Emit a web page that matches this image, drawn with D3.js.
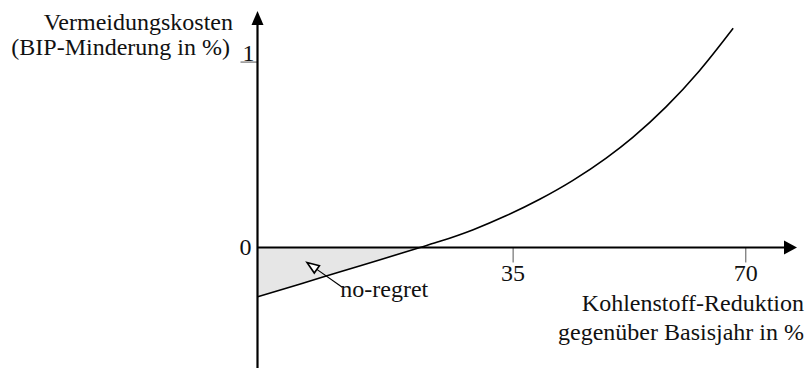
<!DOCTYPE html>
<meta charset="utf-8">
<script src="https://d3js.org/d3.v7.min.js"></script>
<style>
  body { margin: 0; background: #fff; }
  text { font-family: "Liberation Serif", "Times New Roman", Times, serif; font-size: 24px; fill: #111; }
</style>
<svg id="chart" width="807" height="368"></svg>
<script>
// curve: carbon reduction (%) vs. abatement cost (GDP loss in %)
var reduction = [-3.45, 3, 9, 15, 21, 24, 29, 34, 39, 44, 49, 53, 58, 63, 68.1];
var cost      = [-0.266, -0.197, -0.131, -0.066, 0, 0.033, 0.096, 0.172, 0.260, 0.362, 0.482, 0.594, 0.758, 0.952, 1.182];

var xTicks = [35, 70];
var yTicks = [0, 1];
var yTitle = ["Vermeidungskosten", "(BIP-Minderung in %)"];
var xTitle = ["Kohlenstoff-Reduktion", "gegenüber Basisjahr in %"];
var noRegret = { label: "no-regret", tip: [4.0, -0.081], tail: [9.3, -0.214], text: [9.0, -0.266] };

var svg = d3.select("#chart"),
  width = +svg.attr("width"),
  height = +svg.attr("height");

var x = d3.scaleLinear().domain([-3.45, 77.7]).range([257.5, 797]);
var y = d3.scaleLinear().domain([-0.65, 1.27]).range([368, 12]);

var data = reduction.map(function(d, i) { return { x: d, y: cost[i] }; });

// shaded no-regret area
svg.append("path")
  .datum(data.filter(function(d) { return d.y <= 0; }))
  .attr("fill", "#e6e6e6")
  .attr("d", d3.area()
    .x(function(d) { return x(d.x); })
    .y0(y(0))
    .y1(function(d) { return y(d.y); })
    .curve(d3.curveMonotoneX));

// ticks
svg.selectAll(".xtick")
  .data(xTicks)
  .enter().append("line")
    .attr("x1", function(d) { return x(d); })
    .attr("x2", function(d) { return x(d); })
    .attr("y1", y(0))
    .attr("y2", y(0) + 15)
    .attr("stroke", "#555")
    .attr("stroke-width", 1);

svg.selectAll(".xlab")
  .data(xTicks)
  .enter().append("text")
    .attr("x", function(d) { return x(d); })
    .attr("y", y(0) + 34)
    .attr("text-anchor", "middle")
    .text(function(d) { return d; });

svg.append("line")
  .attr("x1", x.range()[0] - 17)
  .attr("x2", x.range()[0])
  .attr("y1", y(1)).attr("y2", y(1))
  .attr("stroke", "#555")
  .attr("stroke-width", 1);

svg.append("text")
  .attr("x", x.range()[0] - 3)
  .attr("y", y(1) - 1)
  .attr("text-anchor", "end")
  .text(yTicks[1]);

svg.append("text")
  .attr("x", x.range()[0] - 6)
  .attr("y", y(0) + 8)
  .attr("text-anchor", "end")
  .text(yTicks[0]);

// curve
svg.append("path")
  .datum(data)
  .attr("fill", "none")
  .attr("stroke", "#000")
  .attr("stroke-width", 1.6)
  .attr("d", d3.line()
    .x(function(d) { return x(d.x); })
    .y(function(d) { return y(d.y); })
    .curve(d3.curveMonotoneX));

// axes with arrow heads
var x0 = x.range()[0], y0 = y(0);
svg.append("line")
  .attr("x1", x0).attr("x2", x0)
  .attr("y1", height).attr("y2", 22)
  .attr("stroke", "#000").attr("stroke-width", 2.2);
svg.append("path")
  .attr("d", "M" + x0 + ",11 L" + (x0 - 6) + ",25 L" + (x0 + 6) + ",25 Z")
  .attr("fill", "#000");

svg.append("line")
  .attr("x1", x0).attr("x2", 787)
  .attr("y1", y0).attr("y2", y0)
  .attr("stroke", "#000").attr("stroke-width", 2.2);
svg.append("path")
  .attr("d", "M797," + y0 + " L784," + (y0 - 7) + " L784," + (y0 + 7) + " Z")
  .attr("fill", "#000");

// axis titles
svg.selectAll(".ytitle")
  .data(yTitle)
  .enter().append("text")
    .attr("x", function(d, i) { return 233 - i * 3; })
    .attr("y", function(d, i) { return 30 + i * 25; })
    .attr("text-anchor", "end")
    .text(function(d) { return d; });

svg.selectAll(".xtitle")
  .data(xTitle)
  .enter().append("text")
    .attr("x", 804)
    .attr("y", function(d, i) { return 311 + i * 28.5; })
    .attr("text-anchor", "end")
    .text(function(d) { return d; });

// no-regret annotation with open arrow head
var tip = [x(noRegret.tip[0]), y(noRegret.tip[1])],
  tail = [x(noRegret.tail[0]), y(noRegret.tail[1])];
var dx = tail[0] - tip[0], dy = tail[1] - tip[1],
  len = Math.sqrt(dx * dx + dy * dy), ux = dx / len, uy = dy / len;
var hl = 12, hw = 4.5;
var bx = tip[0] + ux * hl, by = tip[1] + uy * hl;
svg.append("line")
  .attr("x1", bx).attr("y1", by)
  .attr("x2", tail[0]).attr("y2", tail[1])
  .attr("stroke", "#000").attr("stroke-width", 1.2);
svg.append("path")
  .attr("d", "M" + tip[0] + "," + tip[1] +
    " L" + (bx - uy * hw) + "," + (by + ux * hw) +
    " L" + (bx + uy * hw) + "," + (by - ux * hw) + " Z")
  .attr("fill", "#fff")
  .attr("stroke", "#000")
  .attr("stroke-width", 1.6);

svg.append("text")
  .attr("x", x(noRegret.text[0]))
  .attr("y", y(noRegret.text[1]))
  .text(noRegret.label);
</script>
